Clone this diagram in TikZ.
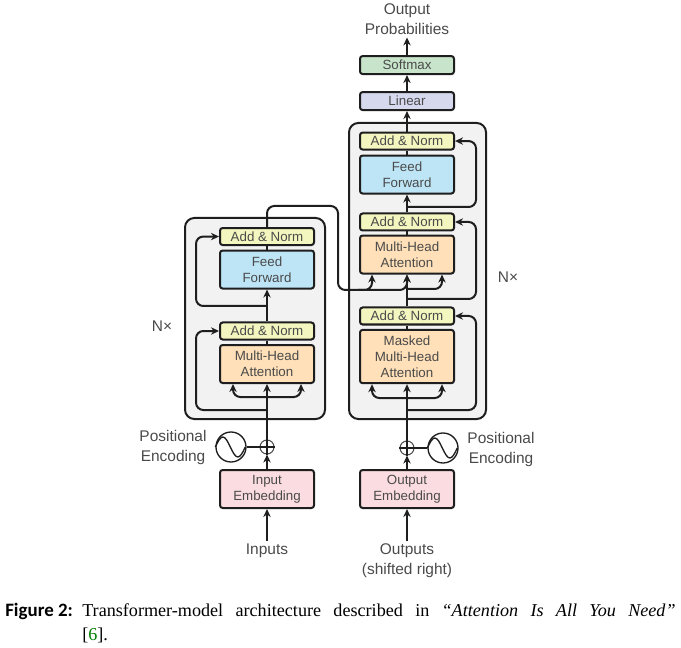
\documentclass[tikz,border=0pt]{standalone}
\usepackage{fontspec}
\setmainfont{Liberation Sans}
\newfontfamily\capserif{Liberation Serif}
\newfontfamily\capsans{Carlito}
\usetikzlibrary{arrows.meta, positioning}
\definecolor{softmaxfill}{HTML}{C8E4CB}
\definecolor{linearfill}{HTML}{D6D9EE}
\definecolor{normfill}{HTML}{F3F6BF}
\definecolor{feedfill}{HTML}{BEE5F6}
\definecolor{attnfill}{HTML}{FFE0B8}
\definecolor{embedfill}{HTML}{FBDDE1}
\definecolor{blockfill}{HTML}{F2F2F2}
\definecolor{inkline}{HTML}{1E1E1E}
\definecolor{inktext}{HTML}{4A4A4A}
\tikzset{
  stackbox/.style={rectangle, rounded corners=2pt, minimum width=70.5pt, inner sep=0pt, align=center, draw=inkline, line width=1.5pt, text=inktext, font=\fontsize{10}{12}\selectfont},
  addnorm/.style={stackbox, minimum height=12.75pt, fill=normfill},
  attention/.style={stackbox, minimum height=28.5pt, fill=attnfill},
  masked/.style={stackbox, minimum height=40pt, fill=attnfill},
  feedfwd/.style={stackbox, minimum height=28.5pt, fill=feedfill},
  embed/.style={stackbox, minimum height=28.5pt, fill=embedfill},
  linearbox/.style={stackbox, minimum height=13.5pt, fill=linearfill},
  softmaxbox/.style={stackbox, minimum height=13.5pt, fill=softmaxfill},
  block/.style={rectangle, rounded corners=7pt, draw=inkline, line width=1.5pt, fill=blockfill},
  plusnode/.style={circle, minimum size=10.5pt, inner sep=0pt, draw=inktext, line width=.8pt, fill=white},
  sinenode/.style={circle, minimum size=22.5pt, inner sep=0pt, draw=inkline, line width=1pt, fill=white},
  textlabel/.style={align=center, inner sep=2pt, text=inktext, font=\fontsize{11.6}{15}\selectfont},
  arrow/.style={line width=1.5pt, draw=inkline, ->, >={Stealth[length=6pt, width=5.5pt]}, rounded corners=5.5pt},
  wire/.style={line width=1.5pt, draw=inkline},
  thinwire/.style={line width=1pt, draw=inkline}
}
\begin{document}
\begin{tikzpicture}[x=0.75pt, y=-0.75pt, node distance=30pt]
    \useasboundingbox (0,0) rectangle (681,648);

    \node (encBlock) [block, minimum width=105pt, minimum height=150.75pt] at (255,318.5) {};
    \node (decBlock) [block, minimum width=102.75pt, minimum height=222pt] at (417.5,271) {};

    % encoder
    \node (inEmbed) [embed] at (267,489) {Input\\Embedding};
    \node (inPlus) [plusnode, above of=inEmbed, yshift=1.5pt] {};
    \node (inSine) [sinenode, left of=inPlus, xshift=3pt] {};
    \node (inMHA) [attention, above of=inPlus, yshift=32.25pt] {Multi-Head\\Attention};
    \node (inNormA) [addnorm, above of=inMHA, yshift=-5.25pt] {Add \& Norm};
    \node (inFeed) [feedfwd, above of=inNormA, yshift=16.1pt] {Feed\\Forward};
    \node (inNormB) [addnorm, above of=inFeed, yshift=-5.25pt] {Add \& Norm};

    % decoder
    \node (outEmbed) [embed] at (407,489) {Output\\Embedding};
    \node (outPlus) [plusnode, above of=outEmbed, yshift=.75pt] {};
    \node (outSine) [sinenode, right of=outPlus, xshift=-3pt] {};
    \node (outMasked) [masked, above of=outPlus, yshift=38.6pt] {Masked\\Multi-Head\\Attention};
    \node (outNormA) [addnorm, above of=outMasked, yshift=.4pt] {Add \& Norm};
    \node (outMHA) [attention, above of=outNormA, yshift=16.1pt] {Multi-Head\\Attention};
    \node (outNormB) [addnorm, above of=outMHA, yshift=-5.6pt] {Add \& Norm};
    \node (outFeed) [feedfwd, above of=outNormB, yshift=5.6pt] {Feed\\Forward};
    \node (outNormC) [addnorm, above of=outFeed, yshift=-4.9pt] {Add \& Norm};
    \node (linear) [linearbox, above of=outNormC] {Linear};
    \node (softmax) [softmaxbox, above of=linear, yshift=-3pt] {Softmax};

    % labels
    \node (probs) [textlabel, above of=softmax, yshift=4.5pt] {Output\\Probabilities};
    \node (inputs) [textlabel, below of=inEmbed, yshift=-16.5pt] {Inputs};
    \node (outputs) [textlabel, below of=outEmbed, yshift=-24pt] {Outputs\\(shifted right)};
    \node (inPosText) [textlabel] at (173,447) {Positional\\Encoding};
    \node (outPosText) [textlabel] at (501,449) {Positional\\Encoding};
    \node (inTimes) [textlabel] at (162,326) {N×};
    \node (outTimes) [textlabel] at (508,277) {N×};

    % branch points
    \coordinate (inTapA) at (267,410);
    \coordinate (inTapB) at (267,397);
    \coordinate (inTapC) at (267,306);
    \coordinate (crossTop) at (338,206);
    \coordinate (crossLow) at (338,290);
    \coordinate (crossTee) at (358,290);
    \coordinate (outTapA) at (407,410);
    \coordinate (outTapB) at (407,398);
    \coordinate (outTapC) at (407,299);
    \coordinate (outTapD) at (407,289);
    \coordinate (outTapE) at (407,207);

    \draw [arrow] (inputs) -- (inEmbed);
    \draw [arrow] (inEmbed) -- (inPlus);
    \draw [arrow] (inPlus) -- (inMHA);
    \draw [wire] (inMHA) -- (inNormA);
    \draw [arrow] (inNormA) -- (inFeed);
    \draw [wire] (inFeed) -- (inNormB);
    \draw [arrow] (inTapB) -| ([xshift=-25.5pt]inMHA.south);
    \draw [arrow] (inTapB) -| ([xshift=25.5pt]inMHA.south);
    \draw [arrow] (inTapA) -- ++(-71,0) |- (inNormA);
    \draw [arrow] (inTapC) -- ++(-71,0) |- (inNormB);

    \draw [arrow] (outputs) -- (outEmbed);
    \draw [arrow] (outEmbed) -- (outPlus);
    \draw [arrow] (outPlus) -- (outMasked);
    \draw [wire] (outMasked) -- (outNormA);
    \draw [arrow] (outNormA) -- (outMHA);
    \draw [wire] (outMHA) -- (outNormB);
    \draw [arrow] (outNormB) -- (outFeed);
    \draw [wire] (outFeed) -- (outNormC);
    \draw [arrow] (outNormC) -- (linear);
    \draw [arrow] (linear) -- (softmax);
    \draw [arrow] (softmax) -- (probs);
    \draw [arrow] (outTapB) -| ([xshift=-26.25pt]outMasked.south);
    \draw [arrow] (outTapB) -| ([xshift=26.25pt]outMasked.south);
    \draw [arrow] (outTapA) -- ++(69,0) |- (outNormA);
    \draw [arrow] (outTapC) -- ++(69,0) |- (outNormB);
    \draw [arrow] (outTapE) -- ++(69,0) |- (outNormC);
    \draw [arrow] (outTapD) -| ([xshift=26.25pt]outMHA.south);

    \draw [arrow] (inNormB) |- (crossTop) -- (crossLow) -| ([xshift=-26.25pt]outMHA.south);
    \draw [arrow] (crossTee) -| (outMHA);
    \draw [wire] (outNormA) -- (outTapD);

    % positional encoding
    \draw [thinwire] (inSine) -- (inPlus);
    \draw [thinwire] (outSine) -- (outPlus);
    \draw [thinwire] (inPlus.north) -- (inPlus.south);
    \draw [thinwire] (inPlus.west) -- (inPlus.east);
    \draw [thinwire] (outPlus.north) -- (outPlus.south);
    \draw [thinwire] (outPlus.west) -- (outPlus.east);
    \draw [thinwire] (inSine.west) sin ++(7.5,-10) cos ++(7.5,10) sin ++(7.5,10) cos ++(7.5,-10);
    \draw [thinwire] (outSine.west) sin ++(7.5,-10) cos ++(7.5,10) sin ++(7.5,10) cos ++(7.5,-10);

    % caption
    \node (capTag) [anchor=north west, inner sep=0pt, font=\capsans\bfseries\fontsize{14.2}{18}\selectfont] at (5,603) {Figure 2:};
    \node (capText) [anchor=north west, inner sep=0pt, text width=445pt, align=justify, font=\capserif\fontsize{13.6}{18}\selectfont] at (82,603) {Transformer-model architecture described in \textit{“Attention Is All You Need”}\linebreak{}[{\color{green!50!black}6}].};
\end{tikzpicture}
\end{document}
